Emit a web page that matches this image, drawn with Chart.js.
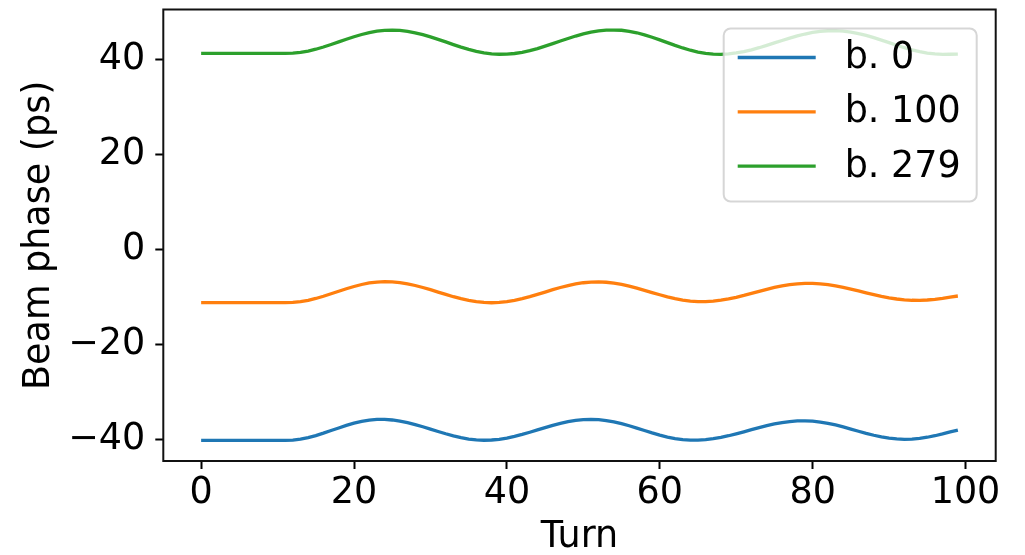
<!DOCTYPE html>
<html lang="en">
<head>
    <meta charset="UTF-8">
    <title>Beam phase per turn</title>
    <script src="https://cdn.jsdelivr.net/npm/chart.js"></script>
    <style>
        html, body { margin: 0; padding: 0; background: #fff; }
        .chart-container { width: 1025px; height: 555px; }
    </style>
</head>
<body>
    <div class="chart-container">
        <canvas id="phaseChart" width="1025" height="555"></canvas>
    </div>

    <script>
        // Turn numbers 0..99
        const turns = Array.from({ length: 100 }, (_, i) => i);

        // Beam phase (ps), one value per turn
        const bunch0 = [
            -40.25, -40.25, -40.25, -40.25, -40.25, -40.25, -40.25, -40.25, -40.25, -40.25, -40.25, -40.25,
            -40.18, -39.97, -39.65, -39.22, -38.71, -38.16, -37.61, -37.08, -36.61, -36.22, -35.96, -35.82,
            -35.81, -35.93, -36.16, -36.48, -36.89, -37.35, -37.85, -38.35, -38.84, -39.28, -39.66, -39.95, -40.13, -40.20,
            -40.15, -40.00, -39.74, -39.40, -38.98, -38.52, -38.03, -37.53, -37.06, -36.64, -36.29, -36.02, -35.86, -35.80,
            -35.86, -36.04, -36.32, -36.70, -37.15, -37.64, -38.15, -38.66, -39.13, -39.54, -39.86, -40.08, -40.19,
            -40.18, -40.08, -39.88, -39.60, -39.25, -38.85, -38.42, -37.97, -37.53, -37.13, -36.77, -36.47, -36.26, -36.13,
            -36.10, -36.18, -36.36, -36.63, -36.98, -37.40, -37.84, -38.30, -38.75, -39.15, -39.50, -39.77, -39.93, -40.00,
            -39.96, -39.81, -39.57, -39.25, -38.86, -38.43, -38.05
        ];
        const bunch100 = [
            -11.18, -11.18, -11.18, -11.18, -11.18, -11.18, -11.18, -11.18, -11.18, -11.18, -11.18, -11.18,
            -11.14, -10.97, -10.68, -10.30, -9.83, -9.31, -8.78, -8.25, -7.77, -7.35, -7.03, -6.83, -6.75,
            -6.80, -6.95, -7.21, -7.56, -7.98, -8.45, -8.95, -9.45, -9.93, -10.35, -10.71, -10.98, -11.14, -11.20,
            -11.14, -10.98, -10.71, -10.35, -9.92, -9.45, -8.95, -8.45, -7.99, -7.57, -7.23, -6.98, -6.84,
            -6.80, -6.88, -7.06, -7.34, -7.70, -8.12, -8.58, -9.05, -9.52, -9.96, -10.33, -10.64, -10.85, -10.96,
            -10.96, -10.86, -10.67, -10.40, -10.05, -9.66, -9.23, -8.79, -8.37, -7.98, -7.65, -7.38, -7.20, -7.11,
            -7.12, -7.21, -7.39, -7.64, -7.95, -8.32, -8.70, -9.10, -9.49, -9.85, -10.16, -10.41, -10.59, -10.68,
            -10.69, -10.62, -10.48, -10.26, -10.00, -9.78
        ];
        const bunch279 = [
            41.40, 41.40, 41.40, 41.40, 41.40, 41.40, 41.40, 41.40, 41.40, 41.40, 41.40, 41.40,
            41.44, 41.61, 41.89, 42.27, 42.74, 43.27, 43.82, 44.38, 44.91, 45.38, 45.78, 46.07, 46.25,
            46.30, 46.23, 46.04, 45.74, 45.35, 44.88, 44.36, 43.81, 43.25, 42.72, 42.24, 41.84, 41.51, 41.30, 41.21,
            41.23, 41.37, 41.62, 41.97, 42.41, 42.91, 43.44, 44.00, 44.54, 45.05, 45.50, 45.87, 46.14, 46.30,
            46.32, 46.27, 46.06, 45.74, 45.31, 44.80, 44.24, 43.66, 43.08, 42.54, 42.06, 41.67, 41.39, 41.23,
            41.20, 41.29, 41.48, 41.77, 42.15, 42.59, 43.08, 43.60, 44.12, 44.62, 45.08, 45.48, 45.81, 46.04, 46.17,
            46.20, 46.10, 45.89, 45.58, 45.18, 44.71, 44.19, 43.65, 43.11, 42.59, 42.14, 41.75, 41.46, 41.27, 41.20,
            41.21, 41.25
        ];

        const seriesLabels = ['b. 0', 'b. 100', 'b. 279'];
        const seriesColors = ['#1f77b4', '#ff7f0e', '#2ca02c'];
        const xTicks = [0, 20, 40, 60, 80, 100];
        const yTicks = [-40, -20, 0, 20, 40];

        const FONT = 'DejaVu Sans';
        const FONT_SIZE = 36.5;
        const INK = '#000000';

        function toPoints(values) {
            return turns.map((t, i) => ({ x: t, y: values[i] }));
        }

        // Draws the axes frame plus the matplotlib-like legend box
        const framePlugin = {
            id: 'frame',
            afterDatasetsDraw(chart) {
                const { ctx, chartArea } = chart;
                ctx.save();
                // legend box
                const bx = chartArea.right - 272, by = chartArea.top + 19;
                const bw = 253, bh = 173, r = 7;
                ctx.beginPath();
                ctx.moveTo(bx + r, by);
                ctx.arcTo(bx + bw, by, bx + bw, by + bh, r);
                ctx.arcTo(bx + bw, by + bh, bx, by + bh, r);
                ctx.arcTo(bx, by + bh, bx, by, r);
                ctx.arcTo(bx, by, bx + bw, by, r);
                ctx.closePath();
                ctx.fillStyle = 'rgba(255,255,255,0.8)';
                ctx.fill();
                ctx.strokeStyle = 'rgba(204,204,204,0.8)';
                ctx.lineWidth = 2;
                ctx.stroke();

                ctx.font = FONT_SIZE + 'px "' + FONT + '"';
                ctx.textBaseline = 'middle';
                ctx.textAlign = 'left';
                chart.data.datasets.forEach((ds, i) => {
                    const ly = by + 29 + i * 54.3;
                    ctx.beginPath();
                    ctx.moveTo(bx + 14, ly);
                    ctx.lineTo(bx + 92, ly);
                    ctx.strokeStyle = ds.borderColor;
                    ctx.lineWidth = 3.3;
                    ctx.stroke();
                    ctx.fillStyle = INK;
                    ctx.fillText(ds.label, bx + 121, ly + 1);
                });

                // axes frame
                ctx.strokeStyle = '#111';
                ctx.lineWidth = 2;
                ctx.strokeRect(chartArea.left, chartArea.top,
                    chartArea.right - chartArea.left, chartArea.bottom - chartArea.top);
                ctx.restore();
            }
        };

        const ctx = document.getElementById('phaseChart').getContext('2d');
        new Chart(ctx, {
            type: 'line',
            data: {
                datasets: [bunch0, bunch100, bunch279].map((vals, i) => ({
                    label: seriesLabels[i],
                    data: toPoints(vals),
                    borderColor: seriesColors[i],
                    backgroundColor: seriesColors[i],
                    borderWidth: 3.3,
                    pointRadius: 0,
                    fill: false,
                    tension: 0
                }))
            },
            options: {
                responsive: false,
                animation: false,
                layout: { padding: { top: 9.5, right: 29.3, bottom: 0, left: 0 } },
                plugins: {
                    legend: { display: false },
                    tooltip: { enabled: false }
                },
                scales: {
                    x: {
                        type: 'linear',
                        min: -4.95,
                        max: 103.95,
                        afterBuildTicks: s => { s.ticks = xTicks.map(v => ({ value: v })); },
                        afterFit: s => { s.height = 94; s.paddingLeft = 0; s.paddingRight = 0; },
                        grid: { drawOnChartArea: false, tickLength: 8, tickWidth: 2, color: INK },
                        border: { display: false },
                        ticks: {
                            color: INK, padding: 3, maxRotation: 0,
                            font: { family: FONT, size: FONT_SIZE }
                        },
                        title: {
                            display: true, text: 'Turn', color: INK,
                            font: { family: FONT, size: FONT_SIZE, lineHeight: 1 },
                            padding: { top: 0, bottom: -1 }
                        }
                    },
                    y: {
                        min: -44.58,
                        max: 50.65,
                        afterBuildTicks: s => { s.ticks = yTicks.map(v => ({ value: v })); },
                        afterFit: s => { s.width = 163.3; s.paddingTop = 0; s.paddingBottom = 0; },
                        grid: { drawOnChartArea: false, tickLength: 8, tickWidth: 2, color: INK },
                        border: { display: false },
                        ticks: {
                            color: INK, padding: 10,
                            font: { family: FONT, size: FONT_SIZE },
                            callback: v => (v < 0 ? '\u2212' + Math.abs(v) : String(v))
                        },
                        title: {
                            display: true, text: 'Beam phase (ps)', color: INK,
                            font: { family: FONT, size: FONT_SIZE, lineHeight: 1 },
                            padding: { top: 21, bottom: 0 }
                        }
                    }
                }
            },
            plugins: [framePlugin]
        });
    </script>
</body>
</html>
